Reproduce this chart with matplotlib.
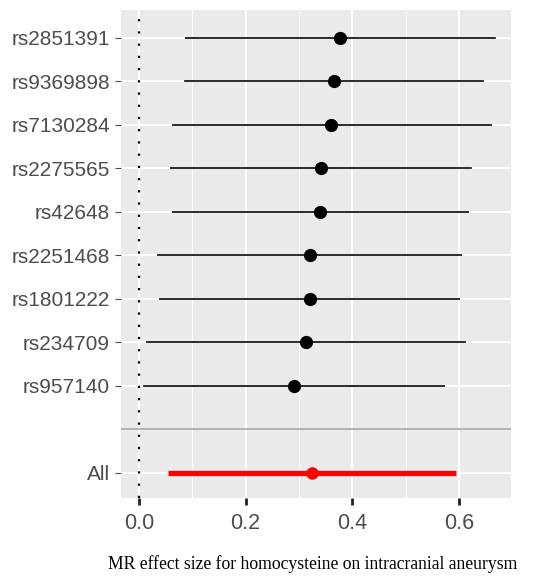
import matplotlib
matplotlib.use("Agg")
import matplotlib.pyplot as plt

snps = ["rs2851391", "rs9369898", "rs7130284", "rs2275565", "rs42648",
        "rs2251468", "rs1801222", "rs234709", "rs957140"]
b = [0.377, 0.366, 0.361, 0.341, 0.340, 0.320, 0.320, 0.3125, 0.291]
lo = [0.088, 0.087, 0.063, 0.059, 0.063, 0.036, 0.039, 0.014, 0.009]
hi = [0.668, 0.646, 0.661, 0.623, 0.617, 0.604, 0.601, 0.612, 0.573]

all_b = 0.324
all_lo = 0.055
all_hi = 0.594

xticks = [0.0, 0.2, 0.4, 0.6]
xlabel = "MR effect size for homocysteine on intracranial aneurysm"

fig = plt.figure(figsize=(5.37, 5.79), dpi=100)
ax = fig.add_axes([0.2253, 0.1399, 0.7263, 0.8428])
ax.set_facecolor("#EBEBEB")

# rows: All at 0, blank at 1, snps from 2 upward (last snp at bottom)
ypos = list(range(len(snps) + 1, 1, -1))

ax.set_xlim(-0.034, 0.698)
ax.set_ylim(-0.58, 10.64)

for v in [0.1, 0.3, 0.5]:
    ax.axvline(v, color="white", lw=0.7, zorder=0)
for v in xticks:
    ax.axvline(v, color="white", lw=1.4, zorder=0)
for y in ypos + [0]:
    ax.axhline(y, color="white", lw=1.4, zorder=0)

ax.axhline(1, color="#B3B3B3", lw=1.4, zorder=1)
ax.axvline(0, color="black", lw=1.6, linestyle=(0, (1, 4.5)), zorder=2)

for y, l, h in zip(ypos, lo, hi):
    ax.plot([l, h], [y, y], color="#1a1a1a", lw=1.3, zorder=3)
ax.plot(b, ypos, "o", color="black", ms=8.5, zorder=4)

ax.plot([all_lo, all_hi], [0, 0], color="#FF0000", lw=3.8, zorder=3,
        solid_capstyle="butt")
ax.plot([all_b], [0], "o", color="#FF0000", ms=8, zorder=4)

ax.set_yticks(ypos + [0])
ax.set_yticklabels(snps + ["All"], fontsize=15, color="#4D4D4D",
                   family="Liberation Sans")
ax.set_xticks(xticks)
ax.set_xticklabels(["0.0", "0.2", "0.4", "0.6"], fontsize=15.5, color="#4D4D4D",
                   family="Liberation Sans")
ax.tick_params(axis="y", length=4, width=0.8, color="#4D4D4D", pad=4)
ax.tick_params(axis="x", length=5, width=2, color="#222222", pad=6)
for s in ax.spines.values():
    s.set_visible(False)

fig.text(0.582, 0.025, xlabel, ha="center", va="center", fontsize=12.7,
         family="Liberation Serif", color="black")

fig.savefig("out.png", dpi=100)
